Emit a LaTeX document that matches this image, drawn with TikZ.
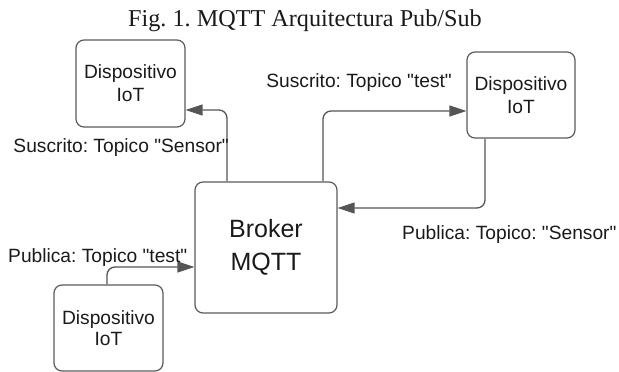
\documentclass[tikz,border=0pt]{standalone}
\usepackage{fontspec}
\setmainfont{Liberation Sans}[Ligatures=TeXOff]
\newfontfamily\titlefont{Liberation Serif}
\usetikzlibrary{arrows.meta}
\frenchspacing
\definecolor{linec}{HTML}{555555}
\definecolor{boxc}{HTML}{5A5A5A}
\definecolor{txtc}{HTML}{1A1A1A}
\tikzset{
  devbox/.style={draw=boxc, line width=1.2pt, rounded corners=8pt, inner sep=0pt,
    align=center, text=txtc, font=\fontsize{19.2}{23}\selectfont},
  lbl/.style={inner sep=0pt, text=txtc, font=\fontsize{19.2}{23}\selectfont},
  arr/.style={draw=linec, line width=1.3pt, rounded corners=8pt,
    -{Triangle[length=17pt,width=11pt]}},
}
\begin{document}
\begin{tikzpicture}[x=1pt,y=-1pt]
\useasboundingbox (0,0) rectangle (619,372);
\node[inner sep=0pt, anchor=base, text=txtc, font=\titlefont\fontsize{24.2}{28}\selectfont] (title) at (305,27) {Fig. 1. MQTT Arquitectura Pub/Sub};

\node[devbox, minimum width=109pt, minimum height=87pt] (lt) at (130.5,83.5) {Dispositivo\\IoT};
\node[devbox, minimum width=108pt, minimum height=86pt] (rt) at (521,95) {Dispositivo\\IoT};
\node[devbox, minimum width=142pt, minimum height=131pt, font=\fontsize{25}{33}\selectfont] (broker) at (266,247.5) {Broker\\MQTT};
\node[devbox, minimum width=109pt, minimum height=86pt, font=\fontsize{19.2}{21.5}\selectfont] (bt) at (108.5,328) {Dispositivo\\IoT};

\draw[arr] ([xshift=-39pt]broker.north) |- ([yshift=-26.5pt]lt.east);
\draw[arr] ([xshift=57pt]broker.north) |- ([yshift=-16pt]rt.west);
\draw[arr] ([xshift=-36pt]rt.south) |- ([yshift=39.5pt]broker.east);
\draw[arr] ([xshift=-1.5pt]bt.north) |- ([yshift=-19.5pt]broker.west);

\node[lbl, anchor=base east] (l1) at (229,152) {Suscrito: Topico "Sensor"};
\node[lbl, anchor=base east] (l2) at (452,87) {Suscrito: Topico "test"};
\node[lbl, anchor=base west] (l3) at (402,239) {Publica: Topico: "Sensor"};
\node[lbl, anchor=base west] (l4) at (8,262) {Publica: Topico "test"};
\end{tikzpicture}
\end{document}
